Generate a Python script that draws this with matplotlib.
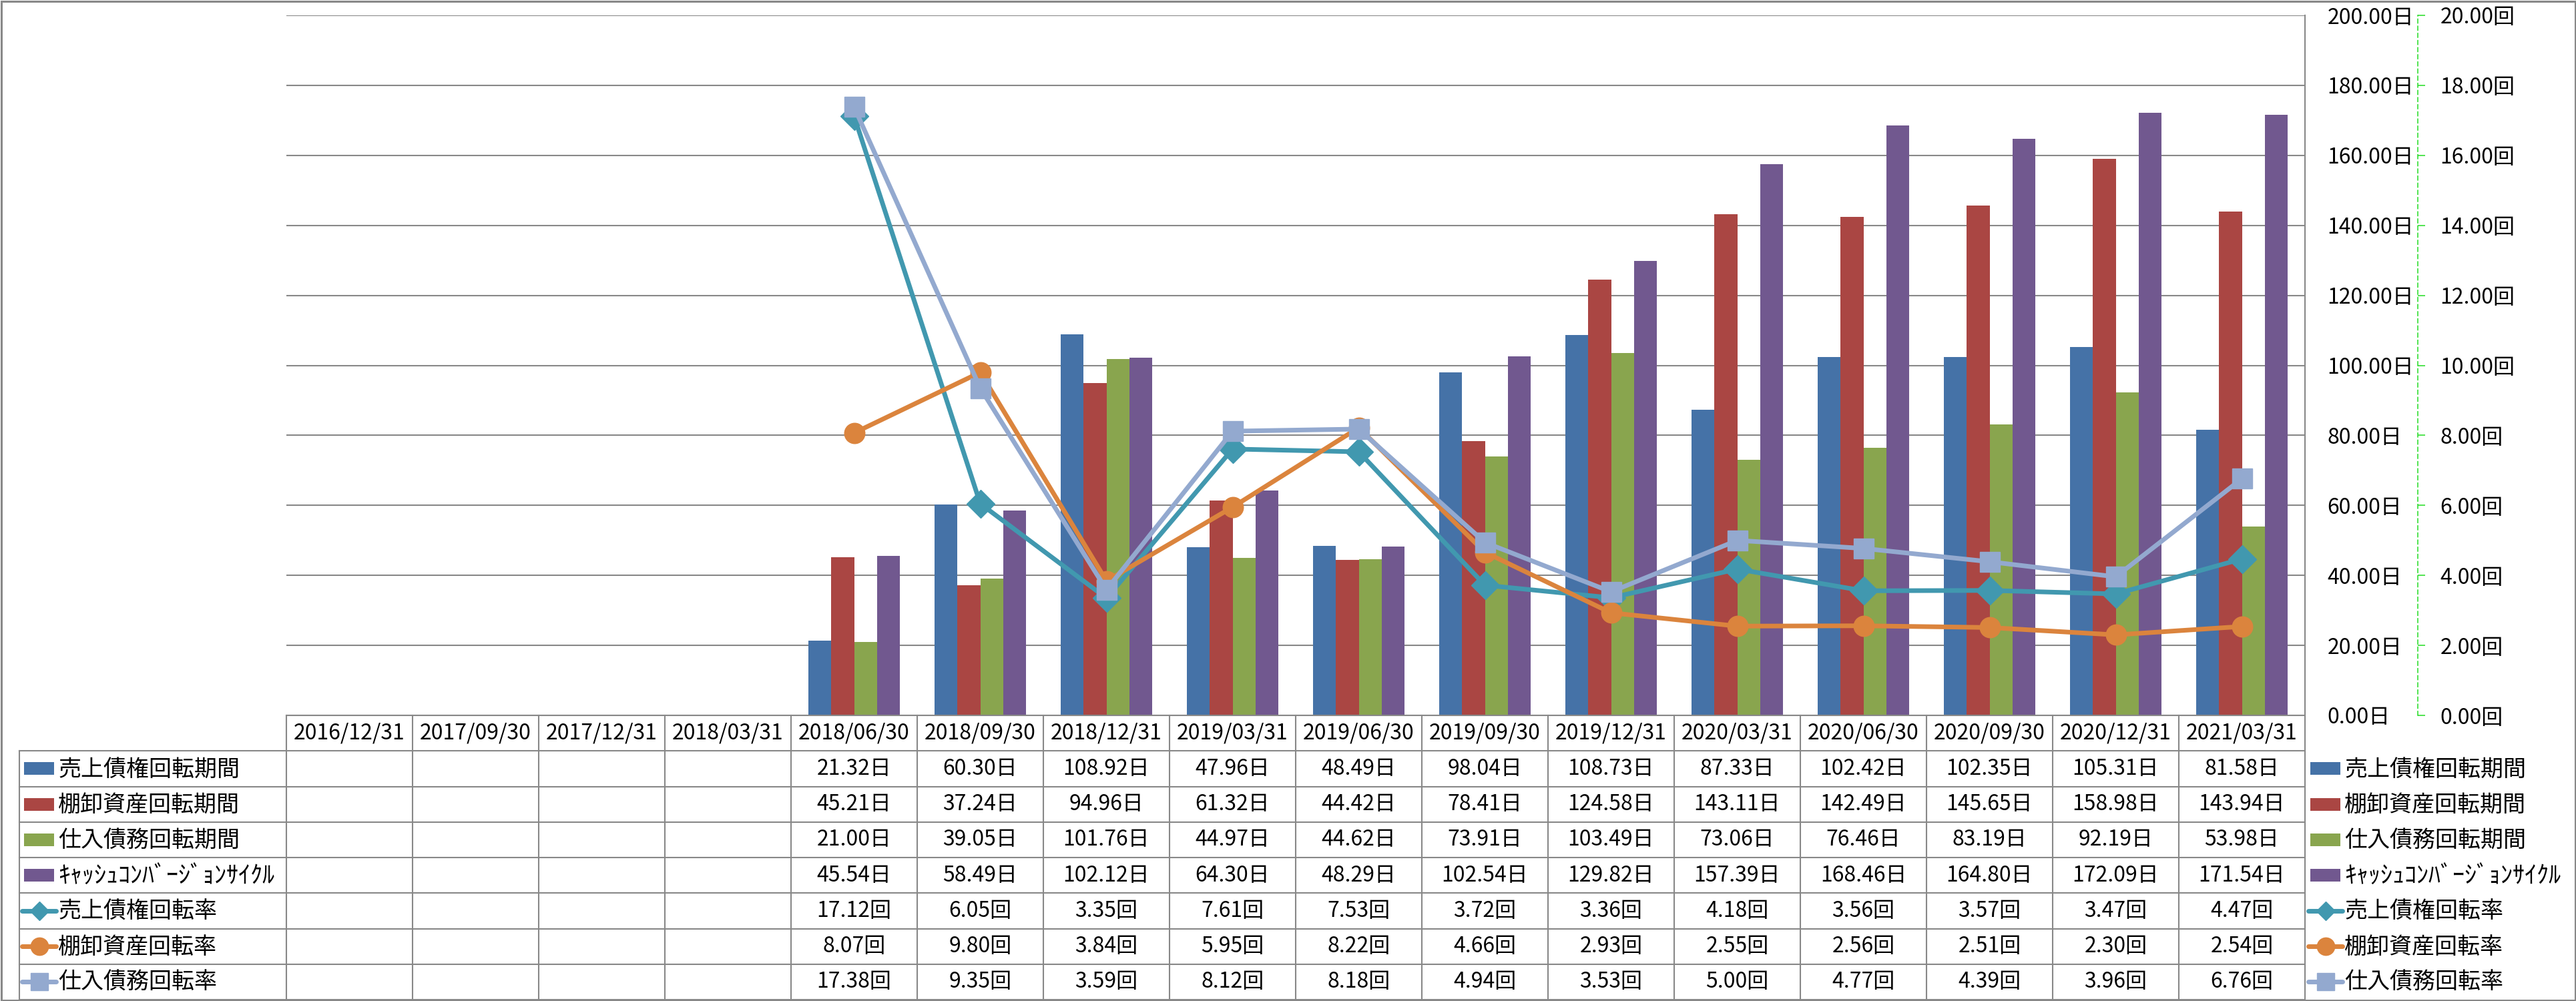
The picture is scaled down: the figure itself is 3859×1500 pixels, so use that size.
import numpy as np
import matplotlib
matplotlib.use("Agg")
import matplotlib.pyplot as plt
from matplotlib.patches import Rectangle
from matplotlib.ticker import FuncFormatter, MultipleLocator

plt.rcParams['font.family'] = ['Noto Sans CJK JP', 'DejaVu Sans']

nan = np.nan
dates = ['2016/12/31', '2017/09/30', '2017/12/31', '2018/03/31', '2018/06/30', '2018/09/30',
         '2018/12/31', '2019/03/31', '2019/06/30', '2019/09/30', '2019/12/31', '2020/03/31',
         '2020/06/30', '2020/09/30', '2020/12/31', '2021/03/31']

# days (primary axis, bars)
ar_days = [nan, nan, nan, nan, 21.32, 60.30, 108.92, 47.96, 48.49, 98.04, 108.73, 87.33, 102.42, 102.35, 105.31, 81.58]
inv_days = [nan, nan, nan, nan, 45.21, 37.24, 94.96, 61.32, 44.42, 78.41, 124.58, 143.11, 142.49, 145.65, 158.98, 143.94]
ap_days = [nan, nan, nan, nan, 21.00, 39.05, 101.76, 44.97, 44.62, 73.91, 103.49, 73.06, 76.46, 83.19, 92.19, 53.98]
ccc_days = [nan, nan, nan, nan, 45.54, 58.49, 102.12, 64.30, 48.29, 102.54, 129.82, 157.39, 168.46, 164.80, 172.09, 171.54]

# turnover (secondary axis, lines)
ar_turn = [nan, nan, nan, nan, 17.12, 6.05, 3.35, 7.61, 7.53, 3.72, 3.36, 4.18, 3.56, 3.57, 3.47, 4.47]
inv_turn = [nan, nan, nan, nan, 8.07, 9.80, 3.84, 5.95, 8.22, 4.66, 2.93, 2.55, 2.56, 2.51, 2.30, 2.54]
ap_turn = [nan, nan, nan, nan, 17.38, 9.35, 3.59, 8.12, 8.18, 4.94, 3.53, 5.00, 4.77, 4.39, 3.96, 6.76]

bar_names = ['売上債権回転期間', '棚卸資産回転期間', '仕入債務回転期間', 'ｷｬｯｼｭｺﾝﾊﾞｰｼﾞｮﾝｻｲｸﾙ']
line_names = ['売上債権回転率', '棚卸資産回転率', '仕入債務回転率']
bar_colors = ['#4572A7', '#AA4643', '#89A54E', '#71588F']
line_colors = ['#4198AF', '#DB843D', '#93A9CF']
line_markers = ['D', 'o', 's']

bar_data = [ar_days, inv_days, ap_days, ccc_days]
line_data = [ar_turn, inv_turn, ap_turn]

W, H = 3859, 1500
left, right, top, bottom = 429, 3453, 23, 1072
grey = '#888888'

fig = plt.figure(figsize=(W / 100, H / 100), dpi=100)
ax = fig.add_axes([left / W, (H - bottom) / H, (right - left) / W, (bottom - top) / H])
x = np.arange(len(dates))
bw = 0.181
for i, (vals, c) in enumerate(zip(bar_data, bar_colors)):
    v = np.array(vals)
    m = ~np.isnan(v)
    ax.bar(x[m] + (i - 1.5) * bw, v[m], bw, color=c, zorder=2)
ax.set_xlim(-0.5, len(dates) - 0.5)
ax.set_ylim(0, 200)
ax.yaxis.set_major_locator(MultipleLocator(20))
ax.yaxis.grid(True, color=grey, lw=1.5)
ax.set_axisbelow(True)
ax.set_xticks([])
for s in ax.spines.values():
    s.set_visible(False)

ax2 = ax.twinx()
for vals, c, mk in zip(line_data, line_colors, line_markers):
    ms = 21 if mk == 'D' else 22
    ax2.plot(x, vals, color=c, lw=5, marker=mk, ms=ms, mfc=c, mec=c, zorder=3)
ax2.set_ylim(0, 20)
ax2.yaxis.set_major_locator(MultipleLocator(2))
ax2.yaxis.set_major_formatter(FuncFormatter(lambda v, p: f'{v:.2f}回'))
for k in ['left', 'top', 'bottom']:
    ax2.spines[k].set_visible(False)
green = '#22DD22'
ax2.spines['right'].set_position(('outward', 169 * 0.72))
ax2.spines['right'].set_color(green)
ax2.spines['right'].set_linewidth(1.1)
ax2.spines['right'].set_linestyle((0, (4, 3)))
ax2.tick_params(axis='y', length=8, width=1.1, color=green, pad=16, labelsize=23)

# primary day labels sit on the right too (twinx moved them left)
ax.yaxis.tick_right()
ax.yaxis.set_major_formatter(FuncFormatter(lambda v, p: f'{v:.2f}日'))
ax.tick_params(axis='y', which='both', left=False, labelleft=False, right=True,
               labelright=True, length=0, pad=24, labelsize=23)

# data table and legend overlay, in pixel coordinates
fa = fig.add_axes([0, 0, 1, 1], facecolor='none')
fa.set_xlim(0, W)
fa.set_ylim(H, 0)
fa.axis('off')

rh = (1498 - bottom) / 8
cw = (right - left) / len(dates)
lw_t = 1.5
fa.plot([left, right], [bottom, bottom], color=grey, lw=lw_t)
for r in range(1, 9):
    yy = bottom + r * rh
    fa.plot([29, right], [yy, yy], color=grey, lw=lw_t)
fa.plot([29, 29], [bottom + rh, 1498], color=grey, lw=lw_t)
for j in range(len(dates) + 1):
    xx = left + j * cw
    y0 = top if j == len(dates) else bottom
    fa.plot([xx, xx], [y0, 1498], color=grey, lw=lw_t)

for j, d in enumerate(dates):
    fa.text(left + (j + 0.5) * cw, bottom + rh / 2, d, ha='center', va='center', fontsize=23)

rows = [(v, '日') for v in bar_data] + [(v, '回') for v in line_data]
for r, (vals, unit) in enumerate(rows):
    yc = bottom + (r + 1.5) * rh
    for j, v in enumerate(vals):
        if not np.isnan(v):
            fa.text(left + (j + 0.5) * cw, yc, f'{v:.2f}{unit}', ha='center', va='center', fontsize=23)


def legend_entry(x0, yc, r):
    fs = 24.5
    if r < 4:
        fa.add_patch(Rectangle((x0 + 3, yc - 9.5), 45, 19, color=bar_colors[r], lw=0))
        name = bar_names[r]
        if r == 3:
            fs = 26
    else:
        k = r - 4
        c = line_colors[k]
        fa.plot([x0, x0 + 51], [yc, yc], color=c, lw=5, solid_capstyle='round')
        ms = 14 if line_markers[k] == 'D' else 19
        fa.plot([x0 + 25.5], [yc], marker=line_markers[k], ms=ms, color=c, mec=c)
        name = line_names[k]
    fa.text(x0 + 54, yc + 1, name, ha='left', va='center', fontsize=fs)


for r in range(7):
    yc = bottom + (r + 1.5) * rh
    legend_entry(33, yc, r)
    legend_entry(3458, yc, r)

fa.add_patch(Rectangle((1.5, 1.5), W - 3, H - 3, fill=False, ec=grey, lw=2.2))

fig.savefig('out.png', dpi=100)
